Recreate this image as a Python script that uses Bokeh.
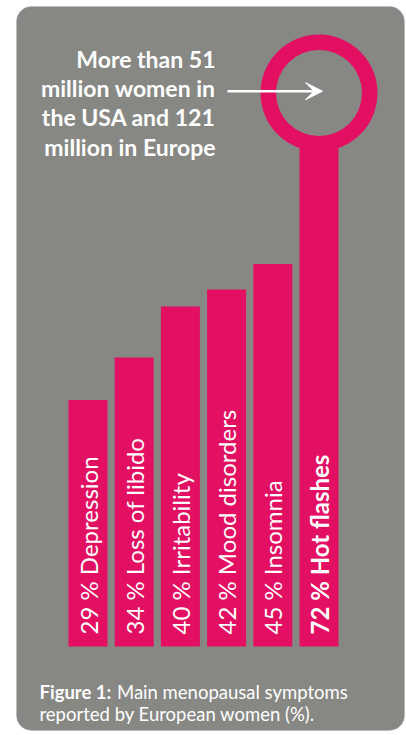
import numpy as np
from bokeh.plotting import figure
from bokeh.models import ColumnDataSource, Range1d, Label, Arrow, VeeHead, BoxAnnotation
from bokeh.core.properties import value
from bokeh.embed import file_html
from bokeh.resources import INLINE

# ---- data ----
symptoms = ["Depression", "Loss of libido", "Irritability", "Mood disorders", "Insomnia", "Hot flashes"]
percent = [29, 34, 40, 42, 45, 72]
headline = ["More than 51", "million women in", "the USA and 121", "million in Europe"]
caption_bold = "Figure 1:"
caption_rest = ["Main menopausal symptoms", "reported by European women (%)."]

# ---- style / layout ----
PINK = "#E20F63"
GRAY = "#878884"
FONT = "Lato"
W, H = 406, 735
PX_PER_PCT = 8.5      # vertical scale
BASE_PX = 89          # bar base above bottom of canvas
SLOT_PX = 46.2        # horizontal slot per bar
FIRST_PX = 87.5       # centre of first bar
BAR_W = 39 / SLOT_PX
RING_OUT, RING_IN = 58.5, 43

x_start = -FIRST_PX / SLOT_PX
x_end = x_start + W / SLOT_PX
y_start = -BASE_PX / PX_PER_PCT
y_end = y_start + H / PX_PER_PCT

p = figure(width=W, height=H, output_backend="svg", toolbar_location=None,
           x_range=Range1d(x_start, x_end), y_range=Range1d(y_start, y_end),
           min_border=0)
p.axis.visible = False
p.grid.visible = False
p.outline_line_color = None
p.background_fill_color = "white"
p.border_fill_color = "white"

# background panel
panel = BoxAnnotation(left=16, right=404, bottom=5, top=729,
                      left_units="screen", right_units="screen",
                      top_units="screen", bottom_units="screen",
                      fill_color=GRAY, fill_alpha=1.0, line_color="#a9aaa7",
                      line_width=1, border_radius=15, level="underlay")
p.add_layout(panel)

n = len(percent)
idx = list(range(n))
hot = n - 1
ring_center = percent[hot] - RING_OUT / PX_PER_PCT

bars = ColumnDataSource(dict(x=idx[:hot], top=percent[:hot]))
p.vbar(x="x", top="top", bottom=0, width=BAR_W, source=bars,
       fill_color=PINK, line_color=None)
# hot flashes stem + ring
p.vbar(x=[hot], top=[ring_center], bottom=0, width=BAR_W,
       fill_color=PINK, line_color=None)
p.scatter(x=[hot], y=[ring_center], size=2 * RING_IN + 2, marker="circle",
          fill_color=GRAY, line_color=None)
p.annulus(x=[hot], y=[ring_center], inner_radius=RING_IN, outer_radius=RING_OUT,
          inner_radius_units="screen", outer_radius_units="screen",
          fill_color=PINK, line_color=None)

labels = [f"{v} % {s}" for v, s in zip(percent, symptoms)]
lab_src = ColumnDataSource(dict(x=idx[:hot], y=[0] * hot, text=labels[:hot]))
p.text(x="x", y="y", text="text", source=lab_src, angle=np.pi / 2,
       text_align="left", text_baseline="middle", text_font=value(FONT),
       text_font_size="24px", text_color="white", y_offset=-12)
p.text(x=[hot], y=[0], text=[labels[hot]], angle=np.pi / 2,
       text_align="left", text_baseline="middle", text_font=value(FONT),
       text_font_size="24px", text_font_style="bold", text_color="white",
       y_offset=-12)

# headline
for i, line in enumerate(headline):
    p.add_layout(Label(x=215, y=676.7 - 29.3 * i, x_units="screen", y_units="screen",
                       text=line, text_align="right", text_baseline="alphabetic",
                       text_font=FONT, text_font_size="23px", text_font_style="bold",
                       text_color="white"))

p.add_layout(Arrow(x_start=227, y_start=644.3, x_end=322, y_end=644.3,
                   start_units="screen", end_units="screen",
                   line_color="white", line_width=2.5,
                   end=VeeHead(size=17, fill_color="white", line_color="white", line_width=1)))

# caption
p.add_layout(Label(x=39, y=43.3, x_units="screen", y_units="screen", text=caption_bold,
                   text_baseline="alphabetic", text_font=FONT, text_font_size="18.5px",
                   text_font_style="bold", text_color="white"))
p.add_layout(Label(x=116.5, y=43.3, x_units="screen", y_units="screen", text=caption_rest[0],
                   text_baseline="alphabetic", text_font=FONT, text_font_size="18.5px",
                   text_color="white"))
p.add_layout(Label(x=39, y=21.7, x_units="screen", y_units="screen", text=caption_rest[1],
                   text_baseline="alphabetic", text_font=FONT, text_font_size="18.5px",
                   text_color="white"))

open("out.html", "w").write(file_html(p, INLINE))
